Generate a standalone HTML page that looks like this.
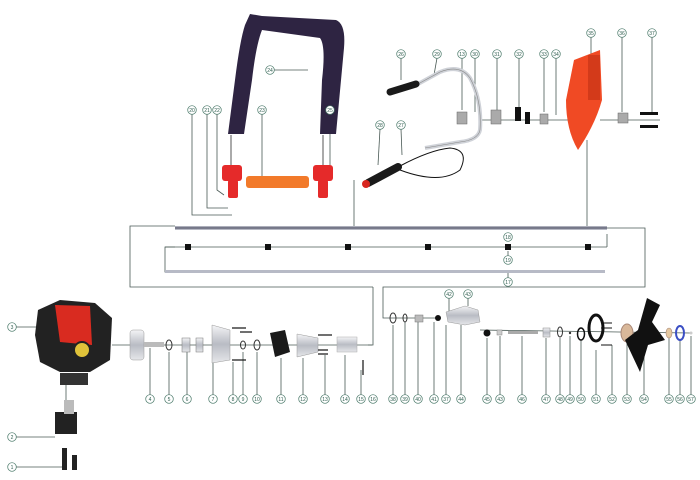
<!DOCTYPE html>
<html><head><meta charset="utf-8"><style>
html,body{margin:0;padding:0;background:#fff;width:700px;height:480px;overflow:hidden}
svg{display:block}
text{font-family:"Liberation Sans",sans-serif;font-size:5px;fill:#2f5d4f;text-anchor:middle}
</style></head><body>
<svg width="700" height="480" viewBox="0 0 700 480" xmlns="http://www.w3.org/2000/svg">
<defs>
<linearGradient id="sil" x1="0" y1="0" x2="0" y2="1"><stop offset="0" stop-color="#f4f4f6"/><stop offset=".5" stop-color="#b9bcc4"/><stop offset="1" stop-color="#e6e7ea"/></linearGradient>
<linearGradient id="shaft" x1="0" y1="0" x2="0" y2="1"><stop offset="0" stop-color="#c8cad4"/><stop offset=".5" stop-color="#5a5c70"/><stop offset="1" stop-color="#d6d8e0"/></linearGradient>
<g id="c"><circle r="4.3" fill="#fff" stroke="#4b7a6a" stroke-width=".7"/></g>
</defs>
<g fill="none" stroke="#4a5a55" stroke-width=".8">
<polyline points="373,287 130,287 130,226 175,226"/>
<polyline points="607,228 645,228 645,287 383,287 383,318 395,318"/>
<polyline points="175,247 165,247 165,272 605,272"/>
<line x1="165" y1="247" x2="607" y2="247"/>
<polyline points="607,247 607,234"/>
<polyline points="373,287 373,345 368,345"/>
<polyline points="354,180 354,226"/>
<line x1="587" y1="140" x2="587" y2="226"/>
<polyline points="192,114 192,215 232,215"/>
<polyline points="207,114 207,208 228,208"/>
<polyline points="217,114 217,190 224,195"/>
<line x1="262" y1="114" x2="262" y2="180"/>
<line x1="330" y1="114" x2="330" y2="165"/>
<line x1="274" y1="70" x2="308" y2="70"/>
<line x1="508" y1="241" x2="508" y2="234"/>
<line x1="508" y1="256" x2="508" y2="251"/>
<line x1="508" y1="278" x2="508" y2="273"/>
<line x1="401" y1="58" x2="401" y2="80"/>
<line x1="437" y1="58" x2="434" y2="75"/>
<line x1="462" y1="58" x2="462" y2="110"/>
<line x1="475" y1="58" x2="475" y2="112"/>
<line x1="497" y1="58" x2="497" y2="112"/>
<line x1="519" y1="58" x2="519" y2="108"/>
<line x1="544" y1="58" x2="544" y2="112"/>
<line x1="556" y1="58" x2="556" y2="115"/>
<line x1="591" y1="37" x2="591" y2="62"/>
<line x1="622" y1="37" x2="622" y2="112"/>
<line x1="652" y1="37" x2="652" y2="112"/>
<line x1="380" y1="129" x2="378" y2="165"/>
<line x1="401" y1="129" x2="402" y2="155"/>
<line x1="480" y1="120" x2="575" y2="120"/>
<line x1="600" y1="120" x2="660" y2="120"/>
<line x1="112" y1="345" x2="372" y2="345"/>
<line x1="395" y1="318" x2="440" y2="318"/>
<line x1="480" y1="330" x2="690" y2="333"/>
<line x1="66" y1="380" x2="66" y2="410"/>
<line x1="16" y1="327" x2="40" y2="327"/>
<line x1="16" y1="437" x2="55" y2="437"/>
<line x1="16" y1="467" x2="65" y2="467"/>
<g>
<line x1="150" y1="395" x2="150" y2="348"/><line x1="169" y1="395" x2="169" y2="352"/>
<line x1="187" y1="395" x2="187" y2="352"/><line x1="213" y1="395" x2="213" y2="360"/>
<line x1="233" y1="395" x2="233" y2="362"/><line x1="243" y1="395" x2="243" y2="352"/>
<line x1="257" y1="395" x2="257" y2="352"/><line x1="281" y1="395" x2="281" y2="358"/>
<line x1="303" y1="395" x2="303" y2="358"/><line x1="325" y1="395" x2="325" y2="355"/>
<line x1="345" y1="395" x2="345" y2="355"/><line x1="361" y1="395" x2="361" y2="370"/>
<line x1="393" y1="395" x2="393" y2="325"/><line x1="405" y1="395" x2="405" y2="322"/>
<line x1="418" y1="395" x2="418" y2="322"/><line x1="434" y1="395" x2="434" y2="322"/>
<line x1="446" y1="395" x2="446" y2="325"/><line x1="461" y1="395" x2="461" y2="325"/>
<line x1="487" y1="395" x2="487" y2="338"/><line x1="500" y1="395" x2="500" y2="336"/>
<line x1="522" y1="395" x2="522" y2="336"/><line x1="546" y1="395" x2="546" y2="338"/>
<line x1="560" y1="395" x2="560" y2="338"/><line x1="570" y1="395" x2="570" y2="336"/>
<line x1="581" y1="395" x2="581" y2="340"/><line x1="596" y1="395" x2="596" y2="350"/>
<line x1="612" y1="395" x2="612" y2="345"/><line x1="627" y1="395" x2="627" y2="340"/>
<line x1="644" y1="395" x2="644" y2="345"/><line x1="669" y1="395" x2="669" y2="338"/>
<line x1="680" y1="395" x2="680" y2="340"/><line x1="691" y1="395" x2="691" y2="336"/>
<line x1="449" y1="298" x2="449" y2="312"/><line x1="468" y1="298" x2="468" y2="306"/>
</g>
</g>
<rect x="175" y="226" width="432" height="4" fill="url(#shaft)"/>
<rect x="165" y="270" width="440" height="3" fill="#b7bac6"/>
<g fill="#111"><rect x="185" y="244" width="6" height="6"/><rect x="265" y="244" width="6" height="6"/><rect x="345" y="244" width="6" height="6"/><rect x="425" y="244" width="6" height="6"/><rect x="505" y="244" width="6" height="6"/><rect x="585" y="244" width="6" height="6"/></g>
<!-- strap -->
<path d="M228,134 L235,80 Q240,40 245,25 L250,14 L262,16 L336,20 Q346,24 344,48 L336,134 L320,134 L322,80 Q326,46 320,38 L262,30 Q256,45 252,80 L244,134 Z" fill="#2e2442"/>
<g fill="#e52a2a"><rect x="222" y="165" width="20" height="16" rx="3"/><rect x="228" y="180" width="10" height="18" rx="2"/><rect x="313" y="165" width="20" height="16" rx="3"/><rect x="318" y="180" width="10" height="18" rx="2"/></g>
<rect x="246" y="176" width="63" height="12" rx="3" fill="#f27a2a"/>
<line x1="231" y1="135" x2="231" y2="165" stroke="#555"/><line x1="323" y1="135" x2="323" y2="165" stroke="#555"/>
<path d="M418,84 L440,72 Q460,64 470,78 Q482,100 480,130 Q478,140 460,142 L425,148" fill="none" stroke="#cfd2d8" stroke-width="4"/>
<path d="M418,84 L440,72 Q460,64 470,78 Q482,100 480,130 Q478,140 460,142 L425,148" fill="none" stroke="#888" stroke-width=".6"/>
<path d="M390,92 L416,84" stroke="#1a1a1a" stroke-width="7" stroke-linecap="round"/>
<path d="M368,183 L398,167" stroke="#1a1a1a" stroke-width="8" stroke-linecap="round"/>
<circle cx="366" cy="184" r="4" fill="#d8261f"/>
<path d="M400,166 Q430,150 450,148 Q470,150 460,170 Q440,185 400,170" fill="none" stroke="#111" stroke-width="1"/>
<g fill="#aaa" stroke="#666" stroke-width=".5"><rect x="457" y="112" width="10" height="12"/><rect x="491" y="110" width="10" height="14"/><rect x="540" y="114" width="8" height="10"/><rect x="618" y="113" width="10" height="10"/></g>
<g fill="#111"><rect x="515" y="107" width="6" height="14"/><rect x="525" y="112" width="5" height="12"/><rect x="640" y="112" width="18" height="3"/><rect x="640" y="125" width="18" height="3"/></g>
<path d="M574,60 L600,50 L602,100 Q595,125 578,150 Q566,130 566,100 Z" fill="#f04a24"/>
<rect x="588" y="55" width="12" height="45" fill="#d33a1a"/>
<path d="M38,310 L60,300 L95,303 L112,318 L110,360 L90,372 L60,372 L40,362 L35,335 Z" fill="#222"/>
<path d="M55,305 L90,306 L92,345 L60,342 Z" fill="#d92b20"/>
<circle cx="82" cy="350" r="8" fill="#e0c33a" stroke="#222" stroke-width="2"/>
<rect x="60" y="373" width="28" height="12" fill="#333"/>
<rect x="55" y="412" width="22" height="22" fill="#222"/>
<rect x="64" y="400" width="10" height="14" fill="#bbb"/>
<rect x="62" y="448" width="5" height="22" fill="#222"/><rect x="72" y="455" width="5" height="15" fill="#222"/>
<rect x="130" y="330" width="14" height="30" rx="3" fill="url(#sil)" stroke="#999" stroke-width=".5"/>
<rect x="144" y="342" width="20" height="5" fill="#bbb"/>
<ellipse cx="169" cy="345" rx="3" ry="5" fill="none" stroke="#333" stroke-width="1"/>
<rect x="182" y="338" width="8" height="14" fill="url(#sil)" stroke="#777" stroke-width=".5"/>
<rect x="196" y="338" width="7" height="14" fill="url(#sil)" stroke="#777" stroke-width=".5"/>
<path d="M212,325 L230,330 L230,360 L212,363 Z" fill="url(#sil)" stroke="#999" stroke-width=".5"/>
<ellipse cx="243" cy="345" rx="2.5" ry="4" fill="none" stroke="#333"/>
<ellipse cx="257" cy="345" rx="3" ry="5" fill="none" stroke="#333"/>
<path d="M270,333 L285,330 L290,352 L275,357 Z" fill="#1a1a1a"/>
<path d="M297,334 L318,338 L318,352 L297,357 Z" fill="url(#sil)" stroke="#999" stroke-width=".5"/>
<rect x="337" y="337" width="20" height="15" fill="url(#sil)" stroke="#aaa" stroke-width=".5"/>
<g stroke="#111" stroke-width="1.2"><line x1="232" y1="328" x2="246" y2="328"/><line x1="240" y1="332" x2="252" y2="332"/><line x1="232" y1="360" x2="246" y2="360"/><line x1="318" y1="335" x2="332" y2="335"/><line x1="318" y1="350" x2="328" y2="350"/><line x1="318" y1="354" x2="328" y2="354"/><line x1="363" y1="360" x2="363" y2="375"/></g>
<ellipse cx="393" cy="318" rx="3" ry="5" fill="none" stroke="#333"/>
<ellipse cx="405" cy="318" rx="2" ry="4" fill="none" stroke="#333"/>
<rect x="415" y="315" width="8" height="7" fill="#bbb" stroke="#777" stroke-width=".5"/>
<circle cx="438" cy="318" r="3" fill="#111"/>
<path d="M446,312 L465,306 L478,310 L480,322 L465,325 L448,322 Z" fill="url(#sil)" stroke="#999" stroke-width=".5"/>
<circle cx="487" cy="333" r="3.5" fill="#111"/>
<rect x="497" y="330" width="5" height="5" fill="#ccc" stroke="#888" stroke-width=".5"/>
<rect x="508" y="331" width="30" height="3" fill="#aaa"/>
<rect x="543" y="328" width="7" height="9" fill="url(#sil)" stroke="#888" stroke-width=".5"/>
<ellipse cx="560" cy="332" rx="2.5" ry="5" fill="none" stroke="#333"/>
<circle cx="570" cy="333" r="1.2" fill="#333"/>
<ellipse cx="581" cy="334" rx="3.5" ry="6" fill="none" stroke="#111" stroke-width="1.5"/>
<ellipse cx="596" cy="328" rx="7" ry="13" fill="none" stroke="#111" stroke-width="3"/>
<g stroke="#111"><line x1="601" y1="323" x2="612" y2="323"/><line x1="601" y1="328" x2="612" y2="328"/><line x1="601" y1="345" x2="612" y2="345"/></g>
<ellipse cx="627" cy="333" rx="6" ry="9" fill="#d9b89a" stroke="#a87" stroke-width="1"/>
<path d="M647,298 L660,305 L652,322 L665,340 L648,345 L640,372 L632,355 L625,340 L638,330 Z" fill="#111"/>
<ellipse cx="669" cy="333" rx="3" ry="5" fill="#e4c8a0" stroke="#a87" stroke-width=".6"/>
<ellipse cx="680" cy="333" rx="4" ry="7" fill="none" stroke="#3b4fc4" stroke-width="2"/>
<circle cx="691" cy="333" r="1.5" fill="#ccc"/>
<g>
<use href="#c" x="192" y="110"/><text x="192" y="111.8">20</text>
<use href="#c" x="207" y="110"/><text x="207" y="111.8">21</text>
<use href="#c" x="217" y="110"/><text x="217" y="111.8">22</text>
<use href="#c" x="262" y="110"/><text x="262" y="111.8">23</text>
<use href="#c" x="270" y="70"/><text x="270" y="71.8">24</text>
<use href="#c" x="330" y="110"/><text x="330" y="111.8">25</text>
<use href="#c" x="401" y="54"/><text x="401" y="55.8">26</text>
<use href="#c" x="437" y="54"/><text x="437" y="55.8">29</text>
<use href="#c" x="462" y="54"/><text x="462" y="55.8">13</text>
<use href="#c" x="475" y="54"/><text x="475" y="55.8">30</text>
<use href="#c" x="497" y="54"/><text x="497" y="55.8">31</text>
<use href="#c" x="519" y="54"/><text x="519" y="55.8">32</text>
<use href="#c" x="544" y="54"/><text x="544" y="55.8">33</text>
<use href="#c" x="556" y="54"/><text x="556" y="55.8">34</text>
<use href="#c" x="591" y="33"/><text x="591" y="34.8">35</text>
<use href="#c" x="622" y="33"/><text x="622" y="34.8">36</text>
<use href="#c" x="652" y="33"/><text x="652" y="34.8">37</text>
<use href="#c" x="380" y="125"/><text x="380" y="126.8">28</text>
<use href="#c" x="401" y="125"/><text x="401" y="126.8">27</text>
<use href="#c" x="508" y="237"/><text x="508" y="238.8">18</text>
<use href="#c" x="508" y="260"/><text x="508" y="261.8">19</text>
<use href="#c" x="508" y="282"/><text x="508" y="283.8">17</text>
<use href="#c" x="12" y="327"/><text x="12" y="328.8">3</text>
<use href="#c" x="12" y="437"/><text x="12" y="438.8">2</text>
<use href="#c" x="12" y="467"/><text x="12" y="468.8">1</text>
<use href="#c" x="449" y="294"/><text x="449" y="295.8">42</text>
<use href="#c" x="468" y="294"/><text x="468" y="295.8">43</text>
</g>
<g>
<use href="#c" x="150" y="399"/><text x="150" y="400.8">4</text>
<use href="#c" x="169" y="399"/><text x="169" y="400.8">5</text>
<use href="#c" x="187" y="399"/><text x="187" y="400.8">6</text>
<use href="#c" x="213" y="399"/><text x="213" y="400.8">7</text>
<use href="#c" x="233" y="399"/><text x="233" y="400.8">8</text>
<use href="#c" x="243" y="399"/><text x="243" y="400.8">9</text>
<use href="#c" x="257" y="399"/><text x="257" y="400.8">10</text>
<use href="#c" x="281" y="399"/><text x="281" y="400.8">11</text>
<use href="#c" x="303" y="399"/><text x="303" y="400.8">12</text>
<use href="#c" x="325" y="399"/><text x="325" y="400.8">13</text>
<use href="#c" x="345" y="399"/><text x="345" y="400.8">14</text>
<use href="#c" x="361" y="399"/><text x="361" y="400.8">15</text>
<use href="#c" x="373" y="399"/><text x="373" y="400.8">16</text>
<use href="#c" x="393" y="399"/><text x="393" y="400.8">38</text>
<use href="#c" x="405" y="399"/><text x="405" y="400.8">39</text>
<use href="#c" x="418" y="399"/><text x="418" y="400.8">40</text>
<use href="#c" x="434" y="399"/><text x="434" y="400.8">41</text>
<use href="#c" x="446" y="399"/><text x="446" y="400.8">37</text>
<use href="#c" x="461" y="399"/><text x="461" y="400.8">44</text>
<use href="#c" x="487" y="399"/><text x="487" y="400.8">45</text>
<use href="#c" x="500" y="399"/><text x="500" y="400.8">43</text>
<use href="#c" x="522" y="399"/><text x="522" y="400.8">46</text>
<use href="#c" x="546" y="399"/><text x="546" y="400.8">47</text>
<use href="#c" x="560" y="399"/><text x="560" y="400.8">48</text>
<use href="#c" x="570" y="399"/><text x="570" y="400.8">49</text>
<use href="#c" x="581" y="399"/><text x="581" y="400.8">50</text>
<use href="#c" x="596" y="399"/><text x="596" y="400.8">51</text>
<use href="#c" x="612" y="399"/><text x="612" y="400.8">52</text>
<use href="#c" x="627" y="399"/><text x="627" y="400.8">53</text>
<use href="#c" x="644" y="399"/><text x="644" y="400.8">54</text>
<use href="#c" x="669" y="399"/><text x="669" y="400.8">55</text>
<use href="#c" x="680" y="399"/><text x="680" y="400.8">56</text>
<use href="#c" x="691" y="399"/><text x="691" y="400.8">57</text>
</g>
</svg>
</body></html>
